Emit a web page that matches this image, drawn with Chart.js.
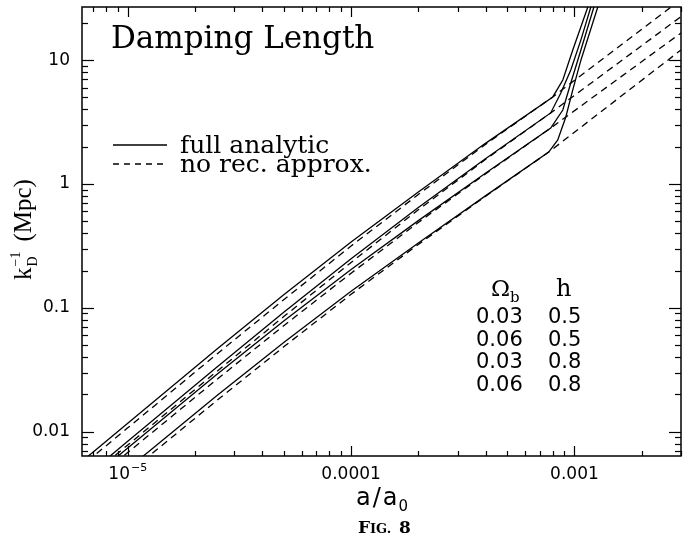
<!DOCTYPE html>
<html>
<head>
<meta charset="utf-8">
<script src="https://cdn.jsdelivr.net/npm/chart.js@4.4.1/dist/chart.umd.min.js"></script>
<style>
  html, body { margin: 0; padding: 0; background: #fff; }
  #wrap { width: 685px; height: 544px; }
</style>
</head>
<body>
<div id="wrap"><canvas id="dampChart" width="685" height="544"></canvas></div>
<script>
// damping length k_D^-1 (Mpc) vs a/a0
// 1: Ωb 0.03 h 0.5   2: Ωb 0.06 h 0.5   3: Ωb 0.03 h 0.8   4: Ωb 0.06 h 0.8
const aLow = [6e-6, 1e-5, 2.51e-5, 5.01e-5, 1e-4, 2e-4, 3.98e-4];

const aFull1 = aLow.concat([8e-4, 8.87e-4, 9.83e-4, 1.148e-3, 1.222e-3]);
const kFull1 = [0.00542, 0.01167, 0.0465, 0.128, 0.340, 0.861, 2.12, 5.05, 6.92, 12.1, 26.9, 36.9];
const aRec1 = aLow.concat([8e-4, 3e-3]);
const kRec1 = [0.0050, 0.01072, 0.0424, 0.1167, 0.3155, 0.822, 2.08, 5.05, 31];

const aFull2 = aLow.concat([7.83e-4, 8.69e-4, 9.63e-4, 1.069e-3, 1.184e-3, 1.247e-3]);
const kFull2 = [0.00388, 0.00834, 0.0332, 0.0925, 0.249, 0.645, 1.59, 3.75, 5.43, 8.34, 14.6, 26.9, 36.9];
const aRec2 = aLow.concat([7.83e-4, 3e-3]);
const kRec2 = [0.00366, 0.00779, 0.0307, 0.0853, 0.2325, 0.619, 1.569, 3.75, 22.5];

const aFull3 = aLow.concat([7.83e-4, 8.87e-4, 9.63e-4, 1.069e-3, 1.222e-3, 1.286e-3]);
const kFull3 = [0.00342, 0.00737, 0.029, 0.0786, 0.204, 0.506, 1.215, 2.83, 3.96, 6.54, 12.1, 26.9, 36.9];
const aRec3 = aLow.concat([7.83e-4, 3e-3]);
const kRec3 = [0.00316, 0.00677, 0.02645, 0.072, 0.1904, 0.489, 1.201, 2.83, 16.6];

const aFull4 = aLow.concat([7.67e-4, 8.42e-4, 9.15e-4, 9.83e-4, 1.069e-3, 1.272e-3, 1.34e-3]);
const kFull4 = [0.00232, 0.0050, 0.0196, 0.0527, 0.136, 0.334, 0.798, 1.81, 2.27, 3.48, 5.75, 10.0, 26.9, 36.9];
const aRec4 = aLow.concat([7.67e-4, 3e-3]);
const kRec4 = [0.00215, 0.00459, 0.01789, 0.0486, 0.1285, 0.325, 0.791, 1.81, 12.1];

const omegaB = ['0.03', '0.06', '0.03', '0.06'];
const hubble = ['0.5', '0.5', '0.8', '0.8'];

// 1e-5 is drawn by hand below (superscript)
const xTickLabels = { '-4': '0.0001', '-3': '0.001' };
const yTickLabels = { '-2': '0.01', '-1': '0.1', '0': '1', '1': '10' };

function pts(xs, ys) {
  return xs.map((x, i) => ({ x: x, y: ys[i] }));
}

function curve(label, xs, ys, dashed) {
  return {
    label: label,
    data: pts(xs, ys),
    borderColor: '#000',
    borderWidth: 1.3,
    borderDash: dashed ? [7, 5] : [],
    pointRadius: 0,
    tension: 0,
    fill: false
  };
}

function decade(v) {
  const e = Math.log10(v);
  return Math.abs(e - Math.round(e)) < 1e-6 ? String(Math.round(e)) : null;
}

function noPadding(s) {
  s.paddingTop = 0; s.paddingBottom = 0; s.paddingLeft = 0; s.paddingRight = 0;
}

// frame, inward ticks on all four sides, and the text annotations
const decorations = {
  id: 'decorations',
  afterDraw(chart) {
    const { ctx, chartArea: a, scales: { x, y } } = chart;
    ctx.save();
    ctx.strokeStyle = '#000';
    ctx.fillStyle = '#000';
    ctx.lineWidth = 1.5;
    ctx.strokeRect(a.left, a.top, a.right - a.left, a.bottom - a.top);

    ctx.lineWidth = 1.2;
    const seg = (x1, y1, x2, y2) => {
      ctx.beginPath(); ctx.moveTo(x1, y1); ctx.lineTo(x2, y2); ctx.stroke();
    };
    for (let e = -6; e <= -2; e++) {
      for (let m = 1; m < 10; m++) {
        const v = m * Math.pow(10, e);
        if (v < x.min || v > x.max) continue;
        const px = Math.round(x.getPixelForValue(v)) + 0.5;
        const len = m === 1 ? 10 : 5;
        seg(px, a.bottom, px, a.bottom - len);
        seg(px, a.top, px, a.top + len);
      }
    }
    for (let e = -3; e <= 2; e++) {
      for (let m = 1; m < 10; m++) {
        const v = m * Math.pow(10, e);
        if (v < y.min || v > y.max) continue;
        const py = Math.round(y.getPixelForValue(v)) + 0.5;
        const len = m === 1 ? 12 : 6;
        seg(a.left, py, a.left + len, py);
        seg(a.right, py, a.right - len, py);
      }
    }

    // 10^-5 tick label
    ctx.textBaseline = 'alphabetic';
    ctx.textAlign = 'left';
    const p5 = x.getPixelForValue(1e-5);
    ctx.font = '17px "DejaVu Sans"';
    const w10 = ctx.measureText('10').width;
    ctx.font = '11px "DejaVu Sans"';
    const w5 = ctx.measureText('−5').width;
    const x5 = p5 - (w10 + 1 + w5) / 2;
    ctx.font = '17px "DejaVu Sans"';
    ctx.fillText('10', x5, 479);
    ctx.font = '11px "DejaVu Sans"';
    ctx.fillText('−5', x5 + w10 + 1, 471);

    // title inside the plot
    ctx.font = '31px "DejaVu Serif"';
    ctx.fillText('Damping Length', 111, 48);

    // legend
    ctx.font = '25px "DejaVu Serif"';
    ctx.lineWidth = 1.3;
    seg(113, 145, 167, 145);
    ctx.fillText('full analytic', 180, 153);
    ctx.setLineDash([6, 5]);
    seg(113, 164, 167, 164);
    ctx.setLineDash([]);
    ctx.fillText('no rec. approx.', 180, 172);

    // parameter table
    ctx.font = '23px "DejaVu Serif"';
    ctx.fillText('Ω', 491, 296);
    ctx.font = '15px "DejaVu Serif"';
    ctx.fillText('b', 510, 302);
    ctx.font = '24px "DejaVu Serif"';
    ctx.fillText('h', 556, 296);
    ctx.font = '21px "DejaVu Sans"';
    omegaB.forEach((ob, i) => {
      const by = 323 + i * 22.5;
      ctx.fillText(ob, 476, by);
      ctx.fillText(hubble[i], 548, by);
    });

    // x axis title a / a0
    ctx.font = '24px "DejaVu Sans"';
    let tx = 356;
    ['a', '/', 'a'].forEach((s) => {
      ctx.fillText(s, tx, 505);
      tx += ctx.measureText(s).width + 2;
    });
    ctx.font = '15px "DejaVu Sans"';
    ctx.fillText('0', tx - 1, 511);

    // figure caption
    ctx.font = 'bold 17px "DejaVu Serif"';
    ctx.fillText('F', 358, 533);
    ctx.font = 'bold 13px "DejaVu Serif"';
    ctx.fillText('IG.', 370, 533);
    ctx.font = 'bold 17px "DejaVu Serif"';
    ctx.fillText('8', 399, 533);

    // y axis title k_D^-1 (Mpc)
    ctx.translate(31, 280);
    ctx.rotate(-Math.PI / 2);
    ctx.font = '25px "Liberation Serif"';
    ctx.fillText('k', 0, 0);
    let kx = ctx.measureText('k').width + 1;
    ctx.font = '14px "Liberation Serif"';
    ctx.fillText('D', kx, 6);
    ctx.fillText('−1', kx, -11);
    kx += ctx.measureText('−1').width + 10;
    ctx.font = '25px "Liberation Serif"';
    ctx.fillText('(Mpc)', kx, 0);
    ctx.restore();
  }
};

const ctx = document.getElementById('dampChart').getContext('2d');
const dampChart = new Chart(ctx, {
  type: 'line',
  data: {
    datasets: [
      curve('full analytic 1', aFull1, kFull1, false),
      curve('no rec. approx. 1', aRec1, kRec1, true),
      curve('full analytic 2', aFull2, kFull2, false),
      curve('no rec. approx. 2', aRec2, kRec2, true),
      curve('full analytic 3', aFull3, kFull3, false),
      curve('no rec. approx. 3', aRec3, kRec3, true),
      curve('full analytic 4', aFull4, kFull4, false),
      curve('no rec. approx. 4', aRec4, kRec4, true)
    ]
  },
  options: {
    responsive: false,
    animation: false,
    layout: { padding: { top: 7, right: 4, left: 0, bottom: 0 } },
    plugins: {
      legend: { display: false },
      tooltip: { enabled: false }
    },
    scales: {
      x: {
        type: 'logarithmic',
        min: 6.24e-6,
        max: 3.0e-3,
        grid: { display: false, drawTicks: false },
        border: { display: false },
        ticks: {
          autoSkip: false,
          maxRotation: 0,
          padding: 8,
          color: '#000',
          font: { family: 'DejaVu Sans', size: 17 },
          callback: (v) => xTickLabels[decade(v)] || ''
        },
        afterFit: (s) => { s.height = 88; noPadding(s); }
      },
      y: {
        type: 'logarithmic',
        min: 0.00635,
        max: 26.9,
        grid: { display: false, drawTicks: false },
        border: { display: false },
        ticks: {
          autoSkip: false,
          padding: 12,
          color: '#000',
          font: { family: 'DejaVu Sans', size: 17 },
          callback: (v) => yTickLabels[decade(v)] || ''
        },
        afterFit: (s) => { s.width = 82; noPadding(s); }
      }
    }
  },
  plugins: [decorations]
});
</script>
</body>
</html>
